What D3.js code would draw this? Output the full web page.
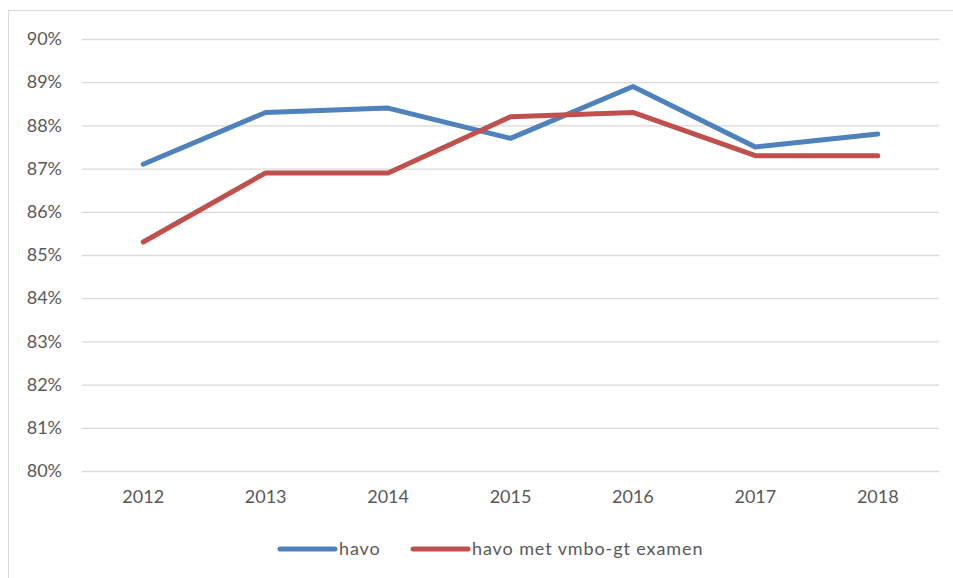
<!DOCTYPE html>
<html><head><meta charset="utf-8">
<script src="https://cdn.jsdelivr.net/npm/d3@7"></script>
<style>body{margin:0;background:#fff;}svg{display:block;font-family:Lato,"Open Sans",sans-serif;}</style>
</head><body><svg id="c" width="953" height="578"></svg>
<script>
const years = ["2012","2013","2014","2015","2016","2017","2018"];
const havo = [87.1, 88.3, 88.4, 87.7, 88.9, 87.5, 87.8];
const havoVmbo = [85.3, 86.9, 86.9, 88.2, 88.3, 87.3, 87.3];
const yTicks = [80,81,82,83,84,85,86,87,88,89,90];
const seriesNames = ["havo","havo met vmbo-gt examen"];
const colors = ["#4F81BD","#C0504D"];

const svg = d3.select("#c");
svg.append("rect").attr("x",8.5).attr("y",10.5).attr("width",950).attr("height",580)
  .attr("fill","none").attr("stroke","#d9d9d9");

const x = d3.scaleBand().domain(years).range([82,939]);
const y = d3.scaleLinear().domain([80,90]).range([471,39]);

const yAxis = svg.append("g").attr("transform","translate(82,0)")
  .call(d3.axisLeft(y).tickValues(yTicks).tickSize(-857).tickFormat(d=>d+"%").tickPadding(20));
yAxis.select(".domain").remove();
yAxis.selectAll("line").attr("stroke","#d9d9d9").attr("stroke-width",1.3);
yAxis.selectAll("text").attr("fill","#595959").style("font-size","18px").attr("font-family","Lato,'Open Sans',sans-serif");

const xAxis = svg.append("g").attr("transform","translate(0,471)")
  .call(d3.axisBottom(x).tickSize(0).tickPadding(19));
xAxis.select(".domain").remove();
xAxis.selectAll("text").attr("fill","#595959").style("font-size","18px").attr("font-family","Lato,'Open Sans',sans-serif");

const line = d3.line().x((d,i)=>x(years[i])+x.bandwidth()/2).y(d=>y(d));
[havo, havoVmbo].forEach((s,i)=>{
  svg.append("path").datum(s).attr("d",line).attr("fill","none")
    .attr("stroke",colors[i]).attr("stroke-width",5).attr("stroke-linecap","round").attr("stroke-linejoin","round");
});

const legendX = [280, 413];
seriesNames.forEach((n,i)=>{
  const g = svg.append("g").attr("transform",`translate(${legendX[i]},549)`);
  g.append("line").attr("x1",0).attr("x2",55).attr("stroke",colors[i]).attr("stroke-width",5).attr("stroke-linecap","round");
  g.append("text").attr("x",59).attr("y",6).attr("fill","#595959").style("font-size","18px").style("letter-spacing","0.9px").text(n);
});
</script></body></html>
